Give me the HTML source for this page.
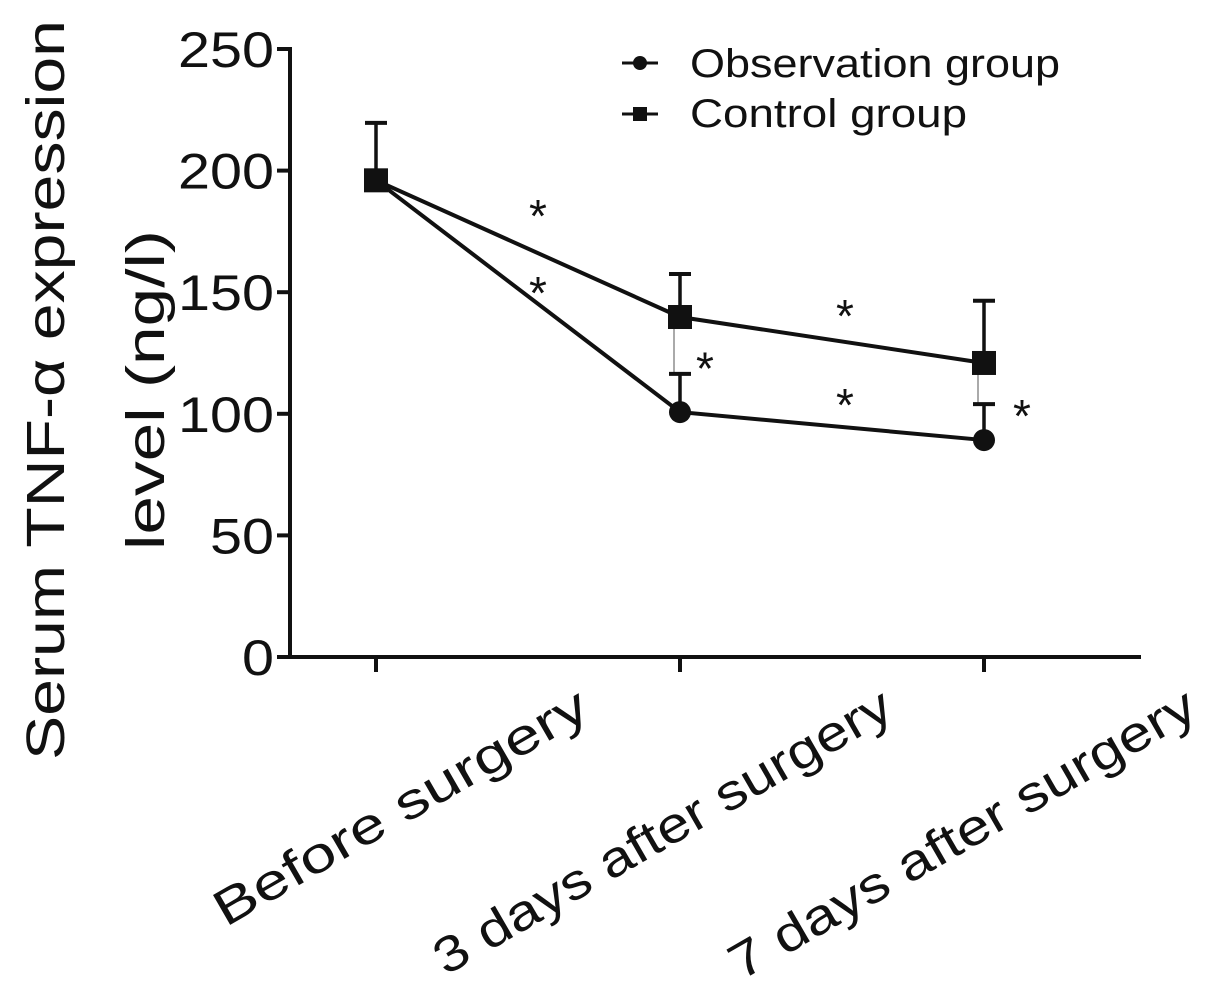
<!DOCTYPE html>
<html><head><meta charset="utf-8"><style>
body{margin:0;background:#fff;}
svg text{font-family:"Liberation Sans",Arial,sans-serif;fill:#111;}
</style></head><body>
<svg id="chart" width="1205" height="990" viewBox="0 0 1205 990" xmlns="http://www.w3.org/2000/svg">
<g id="axes"></g><g id="marks"></g>
<g>
 <line x1="622" y1="63" x2="658" y2="63" stroke="#111" stroke-width="3"/>
 <circle cx="640" cy="63" r="7" fill="#111"/>
 <text x="690" y="77" font-size="40" textLength="370" lengthAdjust="spacingAndGlyphs">Observation group</text>
 <line x1="622" y1="114" x2="658" y2="114" stroke="#111" stroke-width="3"/>
 <rect x="633" y="107" width="14" height="14" fill="#111"/>
 <text x="690" y="127" font-size="40" textLength="277" lengthAdjust="spacingAndGlyphs">Control group</text>
</g>
<g transform="translate(64,390) rotate(-90)">
 <text x="0" y="0" text-anchor="middle" font-size="54" textLength="740" lengthAdjust="spacingAndGlyphs">Serum TNF-α expression</text>
 <text x="0" y="100" text-anchor="middle" font-size="54" textLength="320" lengthAdjust="spacingAndGlyphs">level (ng/l)</text>
</g>
</svg>
<script>
const categories=["Before surgery","3 days after surgery","7 days after surgery"];
const obsValues=[196,100.7,89.2];
const obsErrTop=[196,116.4,104];
const ctrlValues=[196,139.8,120.9];
const ctrlErrTop=[219.6,157.5,146.5];
const yTicks=[0,50,100,150,200,250];
const stars=[[538,184.6],[538,153],[845,143.5],[845,107],[705,122],[1022,102.4]]; // [x px, value] of significance marks
const NS="http://www.w3.org/2000/svg";
const y=v=>657-v*(608/250);
const x=i=>376+i*304;
function mk(t,a,p){const e=document.createElementNS(NS,t);for(const k in a)e.setAttribute(k,a[k]);p.appendChild(e);return e;}
const ax=document.getElementById('axes'),mg=document.getElementById('marks');
let e=mk('line',{x1:290,y1:47,x2:290,y2:659,stroke:'#111','stroke-width':4},ax);

e=mk('line',{x1:288,y1:657,x2:1141,y2:657,stroke:'#111','stroke-width':4},ax);

yTicks.forEach(v=>{
 let t=mk('line',{x1:277,y1:y(v),x2:290,y2:y(v),stroke:'#111','stroke-width':4},ax);
 
 let s=String(v);
 let l=mk('text',{x:274,y:y(v)+18,'text-anchor':'end','font-size':50,textLength:32*s.length,lengthAdjust:'spacingAndGlyphs'},ax);l.textContent=s;
 
});
const labelLen=[423,520,530];
categories.forEach((c,i)=>{
 let t=mk('line',{x1:x(i),y1:657,x2:x(i),y2:672,stroke:'#111','stroke-width':4},ax);
 
 let l=mk('text',{x:0,y:0,'text-anchor':'end','font-size':50,textLength:labelLen[i],lengthAdjust:'spacingAndGlyphs',transform:`translate(${x(i)+216},716) rotate(-30)`},ax);l.textContent=c;
 
});
function err(i,from,to,name){
 let g=mk('g',{},mg);
 mk('line',{x1:x(i),y1:y(from),x2:x(i),y2:y(to),stroke:'#111','stroke-width':3.5},g);
 mk('line',{x1:x(i)-11,y1:y(to),x2:x(i)+11,y2:y(to),stroke:'#111','stroke-width':4},g);
}
categories.forEach((c,i)=>{
 if(i>0){let t=mk('line',{x1:x(i)-6,y1:y(ctrlValues[i]),x2:x(i)-6,y2:y(obsErrTop[i]),stroke:'#555','stroke-width':1},mg);
  }
 err(i,ctrlValues[i],ctrlErrTop[i],'control-error-bar');
 if(obsErrTop[i]>obsValues[i])err(i,obsValues[i],obsErrTop[i],'observation-error-bar');
});
let p1=mk('polyline',{points:obsValues.map((v,i)=>x(i)+','+y(v)).join(' '),fill:'none',stroke:'#111','stroke-width':4},mg);

let p2=mk('polyline',{points:ctrlValues.map((v,i)=>x(i)+','+y(v)).join(' '),fill:'none',stroke:'#111','stroke-width':4},mg);

obsValues.forEach((v,i)=>{let c=mk('circle',{cx:x(i),cy:y(v),r:11,fill:'#111'},mg);
 });
ctrlValues.forEach((v,i)=>{let r=mk('rect',{x:x(i)-12,y:y(v)-12,width:24,height:24,fill:'#111'},mg);
 });
stars.forEach(s=>{let t=mk('text',{x:s[0],y:y(s[1])+24,'text-anchor':'middle','font-size':46},mg);t.textContent='*';
 });
</script>
</body></html>
